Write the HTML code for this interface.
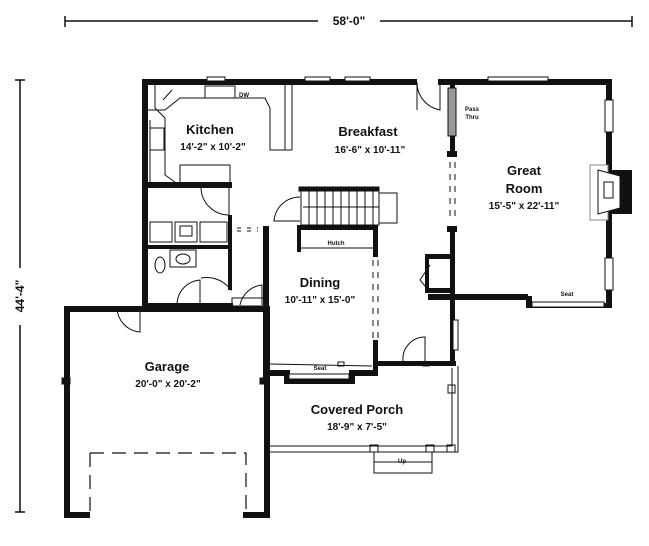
<!DOCTYPE html>
<html><head><meta charset="utf-8"><style>
html,body{margin:0;padding:0;background:#fff;width:649px;height:546px;overflow:hidden}
svg{display:block}
text{font-family:"Liberation Sans",Arial,sans-serif;font-weight:bold;fill:#111;text-anchor:middle}
.t{font-size:13px}.d{font-size:10px}.s{font-size:6px}
</style></head><body>
<svg width="649" height="546" viewBox="0 0 649 546">
<g stroke="#111" fill="none">
<line x1="65" y1="21" x2="318" y2="21" stroke-width="1.5"/>
<line x1="380" y1="21" x2="632" y2="21" stroke-width="1.5"/>
<line x1="65" y1="16" x2="65" y2="27" stroke-width="1.5"/>
<line x1="632" y1="16" x2="632" y2="27" stroke-width="1.5"/>
<line x1="20" y1="80" x2="20" y2="268" stroke-width="1.5"/>
<line x1="20" y1="325" x2="20" y2="512" stroke-width="1.5"/>
<line x1="15" y1="80" x2="25" y2="80" stroke-width="1.5"/>
<line x1="15" y1="512" x2="25" y2="512" stroke-width="1.5"/>
</g>
<text x="349" y="25" class="t" style="font-size:12px">58'-0"</text>
<text x="24" y="296" class="t" style="font-size:12px" transform="rotate(-90 24 296)">44'-4"</text>

<g fill="#111">
<rect x="142" y="79" width="275" height="6"/>
<rect x="438" y="79" width="174" height="6"/>
<rect x="142" y="79" width="6" height="230"/>
<rect x="606" y="79" width="6" height="226"/>
<rect x="612" y="170" width="20" height="44"/>
<rect x="428" y="294" width="100" height="6"/>
<rect x="526" y="296" width="6" height="12"/>
<rect x="526" y="303" width="86" height="5"/>
<rect x="450" y="82" width="5" height="8"/>
<rect x="450" y="135" width="5" height="20"/>
<rect x="447" y="151" width="10" height="6"/>
<rect x="447" y="226" width="10" height="6"/>
<rect x="450" y="226" width="5" height="140"/>
<rect x="425" y="254" width="27" height="5"/>
<rect x="425" y="288" width="27" height="5"/>
<rect x="425" y="254" width="4" height="39"/>
<rect x="148" y="182" width="84" height="6"/>
<rect x="148" y="245" width="82" height="4"/>
<rect x="228" y="215" width="4" height="75"/>
<rect x="263" y="226" width="6" height="154"/>
<rect x="148" y="303" width="85" height="5"/>
<rect x="64" y="306" width="205" height="6"/>
<rect x="64" y="306" width="6" height="212"/>
<rect x="264" y="306" width="6" height="212"/>
<rect x="64" y="512" width="26" height="6"/>
<rect x="243" y="512" width="27" height="6"/>
<rect x="268" y="370" width="18" height="6"/>
<rect x="284" y="370" width="6" height="14"/>
<rect x="284" y="379" width="68" height="5"/>
<rect x="349" y="370" width="6" height="14"/>
<rect x="352" y="370" width="26" height="6"/>
<rect x="373" y="340" width="5" height="36"/>
<rect x="373" y="225" width="5" height="32"/>
<rect x="376" y="361" width="80" height="5"/>
<rect x="297" y="225" width="80" height="5"/>
<rect x="297" y="225" width="4" height="27"/>
</g>
<g stroke="#111" fill="none" stroke-width="1">
<rect x="207" y="77" width="18" height="4" fill="#fff"/>
<rect x="305" y="77" width="25" height="4" fill="#fff"/>
<rect x="345" y="77" width="25" height="4" fill="#fff"/>
<rect x="488" y="77" width="60" height="4" fill="#fff"/>
<rect x="605" y="100" width="8" height="32" fill="#fff"/>
<rect x="605" y="258" width="8" height="32" fill="#fff"/>
<rect x="532" y="302" width="72" height="5" fill="#fff"/>
<rect x="590" y="165" width="18" height="55" fill="#fff" stroke="#888"/>
<path d="M598 170 L620 176 V208 L598 214 Z" fill="#fff"/>
<rect x="604" y="182" width="9" height="16" fill="#fff"/>
<rect x="448" y="88" width="8" height="48" fill="#999"/>
<line x1="450" y1="162" x2="450" y2="222" stroke-dasharray="6,6"/>
<line x1="455" y1="162" x2="455" y2="222" stroke-dasharray="6,6"/>
<line x1="373" y1="260" x2="373" y2="338" stroke-dasharray="6,6"/>
<line x1="378" y1="260" x2="378" y2="338" stroke-dasharray="6,6"/>
<line x1="237" y1="228" x2="258" y2="228" stroke-dasharray="4,6"/>
<line x1="237" y1="231" x2="258" y2="231" stroke-dasharray="4,6"/>
<path d="M148 110 H165 L180 98 H265 L270 108 V150 H285 V85"/>
<path d="M155 85 V108 L165 118 V175 L175 182"/>
<path d="M180 182 V165 H230 V182"/>
<rect x="150" y="128" width="14" height="22"/>
<rect x="205" y="86" width="30" height="12"/>
<line x1="163" y1="100" x2="172" y2="90"/>
<line x1="292" y1="85" x2="292" y2="150"/>
<line x1="270" y1="150" x2="292" y2="150"/>
<line x1="150" y1="182" x2="150" y2="120"/>
<path d="M417 82 V110 M417 82 A28 28 0 0 0 440 110 V82"/>
<path d="M201 188 A28 28 0 0 0 229 215 V188"/>
<path d="M300 197 A26 26 0 0 0 274 221 H300"/>
<path d="M231 258 V290 A30 30 0 0 0 201 278"/>
<path d="M177 303 A25 25 0 0 1 200 280 V303"/>
<path d="M240 305 A25 25 0 0 1 262 285 V305"/>
<rect x="232" y="298" width="32" height="8"/>
<path d="M117 308 A25 25 0 0 0 140 332 V308"/>
<path d="M403 361 A22 22 0 0 1 425 337 V361"/>
<path d="M430 265 L420 280 L430 292"/>
<rect x="150" y="222" width="22" height="20"/>
<rect x="175" y="222" width="22" height="20"/>
<rect x="180" y="226" width="12" height="10"/>
<rect x="200" y="222" width="27" height="20"/>
<rect x="170" y="250" width="26" height="17"/>
<ellipse cx="183" cy="259" rx="7" ry="5"/>
<ellipse cx="160" cy="265" rx="5" ry="8"/>
<line x1="148" y1="247" x2="228" y2="247"/>
<rect x="301" y="191" width="78" height="34"/>
<rect x="379" y="193" width="18" height="30"/>
<path d="M309 191V225M317 191V225M325 191V225M333 191V225M341 191V225M349 191V225M357 191V225M365 191V225M373 191V225"/>
<line x1="303" y1="207" x2="379" y2="207"/>
<rect x="299" y="187" width="80" height="4" fill="#111"/>
<line x1="301" y1="248" x2="373" y2="248"/>
<path d="M270 446 H452 V368"/>
<path d="M270 452 H458 V366"/>
<rect x="453" y="320" width="5" height="30" fill="#fff"/>
<rect x="448" y="385" width="7" height="8"/>
<rect x="447" y="445" width="8" height="7"/>
<rect x="370" y="445" width="8" height="7"/>
<rect x="426" y="445" width="8" height="7"/>
<rect x="338" y="362" width="6" height="4"/>
<rect x="423" y="362" width="6" height="4"/>
<path d="M374 452 V473 H432 V452"/>
<line x1="374" y1="462" x2="432" y2="462"/>
<rect x="289" y="374" width="60" height="5" fill="#fff"/>
<line x1="270" y1="364" x2="372" y2="366"/>
<path d="M90 453 H246 V515 M90 453 V515" stroke-dasharray="14,8" stroke-width="1.2"/>
<rect x="62" y="378" width="8" height="6" fill="#111"/>
<rect x="260" y="378" width="8" height="6" fill="#111"/>
</g>
<text x="210" y="134" class="t">Kitchen</text>
<text x="213" y="150" class="d">14'-2" x 10'-2"</text>
<text x="368" y="136" class="t">Breakfast</text>
<text x="370" y="153" class="d">16'-6" x 10'-11"</text>
<text x="524" y="175" class="t">Great</text>
<text x="524" y="193" class="t">Room</text>
<text x="524" y="209" class="d">15'-5" x 22'-11"</text>
<text x="320" y="287" class="t">Dining</text>
<text x="320" y="303" class="d">10'-11" x 15'-0"</text>
<text x="167" y="371" class="t">Garage</text>
<text x="168" y="387" class="d">20'-0" x 20'-2"</text>
<text x="357" y="414" class="t">Covered Porch</text>
<text x="357" y="430" class="d">18'-9" x 7'-5"</text>
<text x="336" y="245" class="s">Hutch</text>
<text x="472" y="111" class="s">Pass</text>
<text x="472" y="119" class="s">Thru</text>
<text x="567" y="296" class="s">Seat</text>
<text x="320" y="370" class="s">Seat</text>
<text x="244" y="97" class="s">DW</text>
<text x="402" y="463" class="s">Up</text>
</svg>
</body></html>
